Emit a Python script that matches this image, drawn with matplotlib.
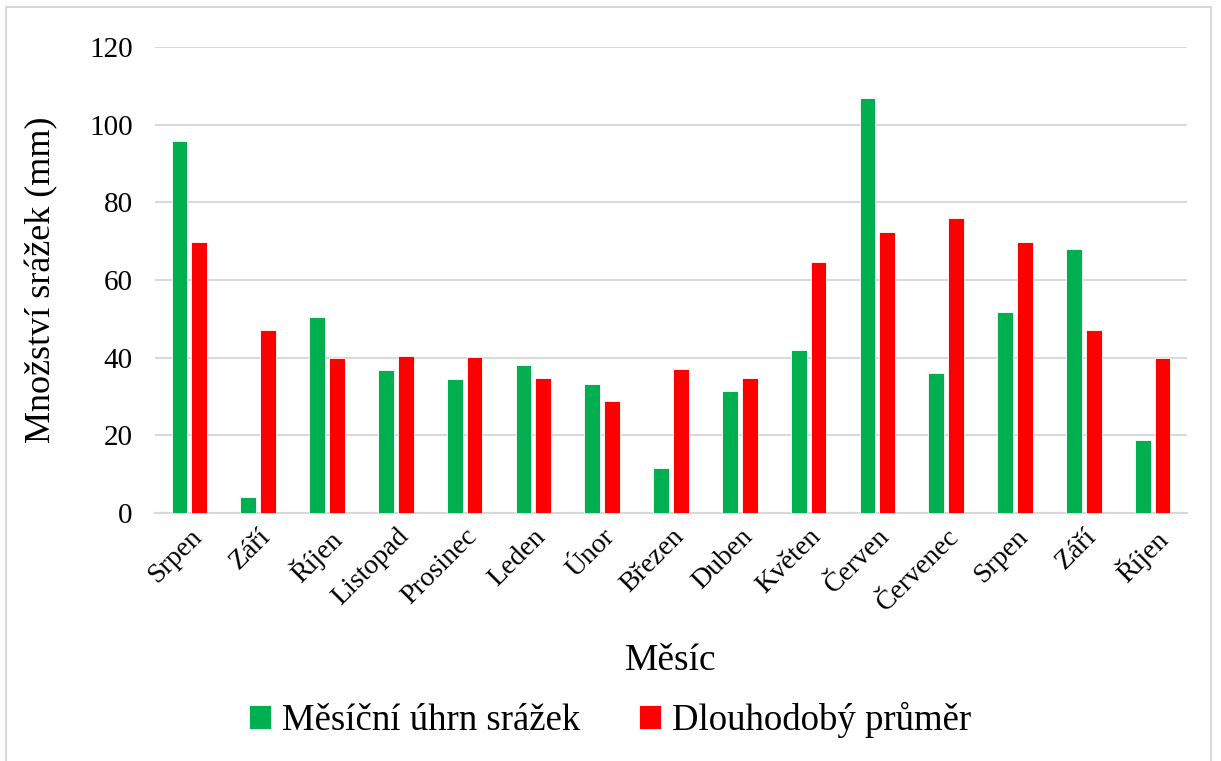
import matplotlib
matplotlib.use('Agg')
import matplotlib.pyplot as plt
from matplotlib.patches import Rectangle
import numpy as np

months = ['Srpen', 'Září', 'Říjen', 'Listopad', 'Prosinec', 'Leden', 'Únor',
          'Březen', 'Duben', 'Květen', 'Červen', 'Červenec', 'Srpen', 'Září', 'Říjen']
monthly = [95.8, 4.2, 50.6, 36.8, 34.5, 38.0, 33.1, 11.6, 31.4, 42.1, 106.8, 36.0, 51.8, 67.9, 18.9]
longterm = [69.8, 47.1, 40.0, 40.4, 40.3, 34.8, 28.9, 37.1, 34.8, 64.6, 72.4, 75.9, 69.8, 47.1, 40.0]

plt.rcParams['font.family'] = ['Liberation Serif', 'DejaVu Serif']

fig = plt.figure(figsize=(12.21, 7.61), dpi=100)
ax = fig.add_axes([155 / 1221, 1 - 513 / 761, (1187 - 155) / 1221, (513 - 47) / 761])

x = np.arange(len(months))
w = 0.23
ax.bar(x - 0.145, monthly, w, color='#00B050', edgecolor='white', linewidth=0.6,
       label='Měsíční úhrn srážek', zorder=3)
ax.bar(x + 0.145, longterm, w, color='#FF0000', edgecolor='white', linewidth=0.6,
       label='Dlouhodobý průměr', zorder=3)

ax.set_xlim(-0.5, len(months) - 0.5)
ax.set_ylim(0, 120)
ax.set_yticks(range(0, 121, 20))
ax.yaxis.grid(True, color='#d9d9d9', linewidth=1.5, zorder=0)
for s in ['top', 'right', 'left']:
    ax.spines[s].set_visible(False)
ax.spines['bottom'].set_color('#d9d9d9')
ax.spines['bottom'].set_linewidth(1.5)
ax.tick_params(axis='both', length=0, labelsize=20)
ax.tick_params(axis='y', pad=16, labelsize=21)
ax.tick_params(axis='x', pad=8)
ax.set_xticks(x)
ax.set_xticklabels(months, rotation=45, ha='right', rotation_mode='anchor')

ax.set_ylabel('Množství srážek (mm)', fontsize=26, labelpad=22)
ax.set_xlabel('Měsíc', fontsize=27, labelpad=20)

ax.legend(loc='center', bbox_to_anchor=(0.441, -0.444), ncol=2, frameon=False,
          fontsize=26.5, handlelength=0.6, handleheight=0.6, handletextpad=0.3,
          columnspacing=1.6)

fig.patches.append(Rectangle((6 / 1221, -0.05), (1211 - 6) / 1221, 1.05 - 7 / 761,
                             transform=fig.transFigure, fill=False,
                             edgecolor='#d9d9d9', linewidth=1.5))

fig.savefig('out.png', dpi=100)
